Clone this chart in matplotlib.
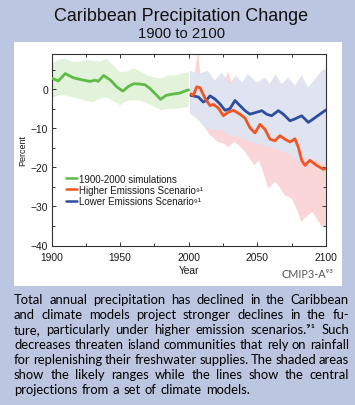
import matplotlib
matplotlib.use('Agg')
import matplotlib.pyplot as plt
import numpy as np
from matplotlib.patches import Rectangle
from matplotlib.ticker import MultipleLocator

plt.rcParams['mathtext.default'] = 'regular'
plt.rcParams['font.family'] = ['Liberation Sans', 'DejaVu Sans']

# ---------------- data ----------------
g_years = [1900, 1901, 1905, 1910, 1916, 1922, 1928, 1932, 1934, 1938, 1943, 1947.5, 1952, 1956,
           1960, 1964.5, 1968, 1972, 1975.5, 1979.5, 1983.5, 1987.5, 1993.5, 1998.5, 2000]
g_vals = [2.8, 2.7, 2.1, 4.0, 2.9, 2.4, 2.0, 2.3, 2.0, 3.5, 2.3, 0.6, -0.5, 0.7,
          1.4, 1.3, 1.15, 0.1, -1.15, -2.6, -1.6, -1.3, -1.0, -0.3, -0.2]

gb_years = [1900, 1905, 1910, 1915, 1920, 1925, 1930, 1935, 1940, 1945, 1950, 1955, 1960,
            1965, 1970, 1975, 1980, 1985, 1990, 1995, 2000]
gb_upper = [6.5, 7.5, 7.8, 7.0, 7.0, 7.5, 7.3, 7.0, 7.8, 6.0, 4.4, 4.5, 5.3,
            4.5, 3.5, 3.0, 2.7, 3.5, 3.5, 4.0, 4.4]
gb_lower = [-2.4, -1.5, -1.6, -2.0, -2.4, -3.0, -3.3, -2.5, -2.0, -3.0, -4.1, -3.0, -2.8,
            -3.0, -3.6, -4.5, -5.4, -5.0, -5.0, -4.8, -4.5]

r_years = [2001.5, 2003.3, 2005.8, 2008.2, 2011.8, 2015.5, 2018, 2021.5, 2025.2, 2028.8, 2032.5,
           2037.3, 2041, 2044.6, 2048.3, 2051.9, 2055.6, 2059.2, 2062.8, 2066.5, 2070, 2073.8,
           2077.4, 2079.8, 2082.3, 2084.7, 2088.3, 2093.2, 2098, 2100]
r_vals = [-1.2, -1.6, 0.6, 0.4, -2.3, -4.2, -3.9, -4.8, -6.8, -5.9, -5.4,
          -6.4, -7.4, -9.9, -11.2, -9.0, -10.3, -12.8, -13.2, -11.9, -12.8, -13.5,
          -12.7, -14.8, -18.2, -19.5, -18.2, -19.5, -20.5, -20.3]

b_years = [2001.5, 2007, 2010.6, 2013, 2015.5, 2019, 2022.8, 2026.4, 2030, 2033.7, 2037.3,
           2041, 2044.6, 2049.5, 2053.2, 2056.8, 2060.4, 2065.3, 2068.9, 2073.8, 2077.4,
           2082.3, 2087.1, 2090.8, 2095.6, 2100]
b_vals = [-1.6, -2.0, -3.3, -2.8, -1.7, -2.5, -3.8, -5.4, -5.0, -2.9, -4.2,
          -5.5, -6.4, -5.9, -5.5, -6.4, -6.8, -5.5, -6.4, -8.1, -7.6,
          -6.8, -8.5, -7.6, -6.4, -5.3]

bu_years = [2001, 2007, 2014, 2019, 2024, 2030, 2034, 2039, 2043, 2049.5, 2055.6, 2059,
            2063, 2067.7, 2072.5, 2077.4, 2082.3, 2087, 2092, 2097, 2100]
bu_vals = [4.7, 3.9, 4.7, 2.2, 4.3, 1.3, 3.5, 1.7, 3.9, 1.7, 3.0, 1.3,
           3.9, 1.3, 3.0, 0.9, 3.5, 0.5, 2.6, 4.7, 5.0]
bl_years = [2001, 2006, 2012, 2018, 2024, 2029, 2035, 2041, 2048, 2055, 2062, 2070, 2075,
            2079, 2084, 2090, 2095, 2100]
bl_vals = [-6.3, -7.5, -9.8, -10.5, -10.5, -11.8, -12.0, -13.0, -13.9, -14.5, -15.0, -16.1, -17.0,
           -18.6, -17.5, -18.2, -18.5, -19.5]

ru_years = [2001, 2004, 2006, 2007, 2008.5, 2012, 2016, 2020, 2024, 2027, 2029, 2031, 2034,
            2040, 2050, 2060, 2070, 2080, 2090, 2100]
ru_vals = [1, 3, 8, 9.5, 3, 0, -1, 0, 1, 3, 4.5, 2, -1,
           -2, -4, -7, -8, -10, -11, -12]
rl_years = [2001, 2005, 2010, 2015, 2021, 2026, 2029, 2033, 2037, 2041, 2045, 2048, 2051, 2055,
            2058, 2063, 2067, 2070, 2075, 2079, 2082, 2086, 2090, 2094, 2097, 2100]
rl_vals = [-6, -7, -9, -11.5, -13.5, -14, -14.8, -13.5, -14.5, -16.1, -18, -19.5, -18.2, -22,
           -25.4, -23.7, -25.5, -27.2, -28, -31, -34, -32.5, -31.4, -33.5, -35.2, -35.2]

labels = ['1900-2000 simulations', 'Higher Emissions Scenario\u2079\u00b9',
          'Lower Emissions Scenario\u2079\u00b9']
title = 'Caribbean Precipitation Change'
subtitle = '1900 to 2100'
source = 'CMIP3-A\u2079\u00b3'
caption_lines = [
    "Total annual precipitation has declined in the Caribbean",
    "and climate models project stronger declines in the fu-",
    "ture, particularly under higher emission scenarios.\u2079\u00b9 Such",
    "decreases threaten island communities that rely on rainfall",
    "for replenishing their freshwater supplies. The shaded areas",
    "show the likely ranges while the lines show the central",
    "projections from a set of climate models.",
]

# ---------------- style ----------------
BG = '#bcc6e0'
GREEN, GREEN_BAND = '#5dbb46', '#e3f2da'
RED, RED_BAND = '#f05522', '#fbd6d9'
BLUE, BLUE_BAND = '#2d4e9e', '#dfe4f0'
W, H = 355, 406

fig = plt.figure(figsize=(W / 100, H / 100), dpi=100)
fig.patch.set_facecolor(BG)
fig.add_artist(Rectangle((14 / W, 1 - 287 / H), 328 / W, 244 / H, transform=fig.transFigure,
                         facecolor='white', edgecolor='none', zorder=-5))

ax = fig.add_axes([51.5 / W, 1 - 246.5 / H, 274.5 / W, 191.5 / H])
ax.set_facecolor('white')

ax.fill(np.concatenate([gb_years, gb_years[::-1]]), np.concatenate([gb_upper, gb_lower[::-1]]),
        color=GREEN_BAND, lw=0, zorder=1)
ax.fill(np.concatenate([ru_years, rl_years[::-1]]), np.concatenate([ru_vals, rl_vals[::-1]]),
        color=RED_BAND, lw=0, zorder=1)
ax.fill(np.concatenate([bu_years, bl_years[::-1]]), np.concatenate([bu_vals, bl_vals[::-1]]),
        color=BLUE_BAND, lw=0, zorder=2)
ax.plot(g_years, g_vals, color=GREEN, lw=2.0, solid_capstyle='round', solid_joinstyle='round',
        zorder=3, label=labels[0])
ax.plot(r_years, r_vals, color=RED, lw=2.0, solid_capstyle='round', solid_joinstyle='round',
        zorder=4, label=labels[1])
ax.plot(b_years, b_vals, color=BLUE, lw=2.0, solid_capstyle='round', solid_joinstyle='round',
        zorder=3, label=labels[2])

ax.set_xlim(1900, 2100)
ax.set_ylim(-40, 9)
ax.xaxis.set_major_locator(MultipleLocator(50))
ax.xaxis.set_minor_locator(MultipleLocator(25))
ax.yaxis.set_major_locator(MultipleLocator(10))
ax.yaxis.set_minor_locator(MultipleLocator(5))
ax.tick_params(which='both', direction='in', top=True, right=True, color='#333333', width=0.7)
ax.tick_params(which='major', length=2.6, labelsize=7.4, labelcolor='#1a1a1a')
ax.tick_params(which='minor', length=2.0)
ax.tick_params(axis='x', pad=4.5)
ax.tick_params(axis='y', pad=2.5)
for s in ax.spines.values():
    s.set_color('#333333')
    s.set_linewidth(0.8)

ax.set_xlabel('Year', fontsize=7.4, color='#1a1a1a')
ax.xaxis.set_label_coords(0.5, -0.1)
ax.set_ylabel('Percent', fontsize=6.5, color='#1a1a1a')
ax.yaxis.set_label_coords(-0.088, 0.5)

# legend anchored in data coordinates (upper-left corner just below the -20 % line)
leg = ax.legend(loc='upper left', bbox_to_anchor=(1910.7, -21.6), bbox_transform=ax.transData,
                frameon=False, fontsize=7.0,
                handlelength=1.1, handletextpad=0.25, labelspacing=0.12, borderpad=0,
                borderaxespad=0)
for t in leg.get_texts():
    t.set_color('#1a1a1a')
for l in leg.get_lines():
    l.set_linewidth(1.8)

fig.text(181.5 / W, 1 - 20.7 / H, title, ha='center', va='baseline', fontsize=12.9, color='#111111')
fig.text(182 / W, 1 - 37.7 / H, subtitle, ha='center', va='baseline', fontsize=10.6, color='#111111')
fig.text(333 / W, 1 - 278 / H, source, ha='right', va='baseline', fontsize=7.8,
         color='#555555', family=['Lato', 'DejaVu Sans'])

# ---------------- justified caption ----------------
CAP_FONT = ['Lato', 'DejaVu Sans']
renderer = fig.canvas.get_renderer()
left_px, right_px = 14.0, 349.0
avail = right_px - left_px


def word_widths(words, fs):
    out = []
    for w in words:
        t = fig.text(0, 0, w, fontsize=fs, family=CAP_FONT)
        out.append(t.get_window_extent(renderer).width)
        t.remove()
    return out


fs = 9.6
while True:
    ok = True
    for line in caption_lines[:-1]:
        ws = word_widths(line.split(' '), fs)
        if sum(ws) + 2.2 * (len(ws) - 1) > avail:
            ok = False
            break
    if ok:
        break
    fs -= 0.1

space_w = word_widths(['a b'], fs)[0] - 2 * word_widths(['a'], fs)[0]
for i, line in enumerate(caption_lines):
    words = line.split(' ')
    ws = word_widths(words, fs)
    if i < len(caption_lines) - 1:
        gap = (avail - sum(ws)) / (len(words) - 1)
    else:
        gap = space_w
    x = left_px
    y = 304 + 15 * i
    for w, wd in zip(words, ws):
        fig.text(x / W, 1 - y / H, w, fontsize=fs, family=CAP_FONT, va='baseline', ha='left',
                 color='#000000')
        x += wd + gap

fig.savefig('out.png', dpi=100, facecolor=BG)
